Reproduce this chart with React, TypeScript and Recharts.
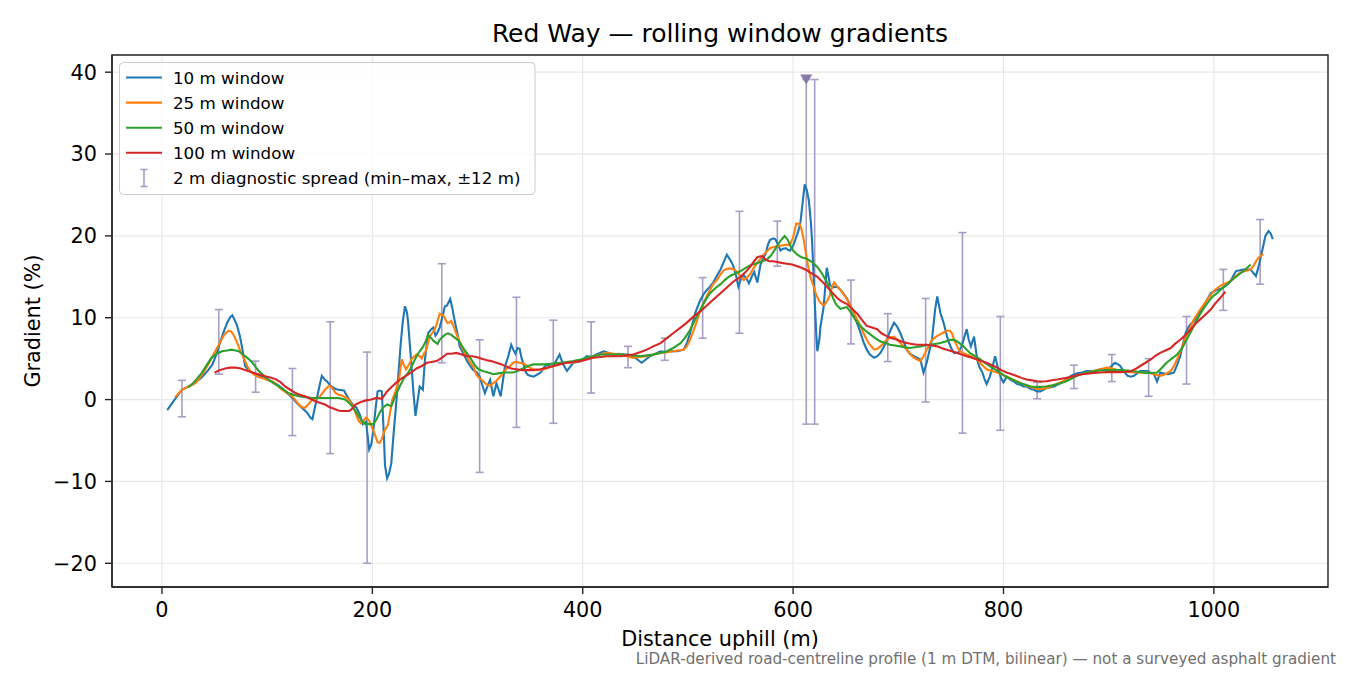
import React from 'react'
import {
  ComposedChart,
  Line,
  Scatter,
  ErrorBar,
  XAxis,
  YAxis,
  CartesianGrid,
  ReferenceArea,
} from 'recharts'

// [distance uphill (m), gradient (%)]
const window10m: [number, number][] = [
  [5, -1.3], [11, -0.2], [19, 1.2], [28, 1.8], [37, 2.6], [44, 3.6], [48, 4.3], [52, 5.6], [55, 6.9], [59, 8.4],
  [62, 9.4], [65, 10.1], [67, 10.3], [71, 9.2], [74, 7.8], [76, 6.5], [79, 4.1], [83, 3.5], [86, 3.3], [90, 3.0],
  [95, 2.8], [100, 2.5], [105, 2.2], [110, 1.8], [114, 1.4], [119, 0.8], [124, 0.2], [128, -0.4], [133, -1.0], [138, -1.6],
  [141, -2.2], [143, -2.4], [147, 0.0], [150, 1.8], [152, 2.9], [155, 2.4], [157, 2.2], [161, 1.6], [165, 1.3], [168, 1.2],
  [173, 1.1], [176, 0.4], [179, -0.2], [182, -0.7], [185, -1.0], [188, -1.8], [191, -3.0], [194, -2.7], [197, -6.1], [199, -5.5],
  [201, -3.7], [203, -1.2], [205, 1.0], [207, 1.1], [209, 1.0], [211, -4.5], [212, -8.0], [214, -9.6], [216, -9.0], [218, -7.8],
  [220, -4.5], [223, 0.0], [225, 3.5], [227, 6.9], [229, 9.6], [231, 11.4], [233, 10.6], [234, 9.4], [237, 4.5], [239, 1.0],
  [241, -2.0], [243, -0.2], [245, 1.6], [248, 1.2], [250, 4.9], [253, 8.1], [256, 8.6], [258, 8.8], [260, 7.8], [262, 8.2],
  [264, 8.8], [267, 10.3], [269, 11.4], [271, 11.5], [274, 12.3], [276, 11.2], [278, 9.8], [281, 8.0], [283, 6.5], [287, 5.5],
  [290, 4.7], [293, 4.1], [296, 3.6], [299, 3.4], [302, 2.8], [305, 1.6], [307, 0.8], [310, 1.8], [312, 2.4], [315, 0.4],
  [318, 2.0], [320, 1.2], [322, 0.4], [324, 2.2], [326, 4.0], [329, 5.2], [332, 6.7], [334, 6.1], [336, 5.6], [338, 6.3],
  [340, 6.2], [342, 5.0], [344, 4.2], [346, 3.3], [348, 3.0], [353, 2.8], [356, 3.0], [360, 3.3], [363, 3.9], [366, 4.3],
  [369, 4.0], [372, 4.1], [375, 4.8], [378, 5.5], [381, 4.4], [385, 3.5], [388, 4.0], [391, 4.5], [395, 4.6], [398, 4.7],
  [404, 5.3], [408, 5.2], [413, 5.5], [420, 5.9], [425, 5.7], [429, 5.5], [434, 5.6], [439, 5.5], [444, 5.4], [448, 5.3],
  [452, 4.9], [456, 4.5], [460, 4.9], [464, 5.3], [469, 5.6], [474, 5.9], [479, 5.8], [483, 5.9], [490, 5.9], [496, 6.1],
  [499, 6.9], [502, 8.1], [505, 9.6], [507, 10.6], [510, 11.6], [512, 12.2], [515, 12.9], [518, 13.4], [521, 13.8], [524, 14.3],
  [527, 15.0], [531, 15.9], [534, 16.8], [537, 17.7], [540, 17.1], [543, 16.4], [546, 15.0], [548, 13.8], [550, 14.6], [553, 15.2],
  [556, 14.7], [558, 14.2], [561, 15.1], [563, 15.6], [566, 14.3], [569, 16.5], [572, 17.4], [574, 17.8], [576, 18.9], [578, 19.5],
  [581, 19.7], [583, 19.6], [586, 18.9], [588, 18.2], [590, 18.4], [593, 18.5], [595, 18.3], [597, 18.2], [600, 18.8], [602, 19.5],
  [605, 20.6], [607, 21.7], [609, 24.0], [611, 26.3], [613, 25.6], [615, 24.3], [617, 21.5], [618, 19.4], [620, 13.7], [622, 8.0],
  [623, 5.9], [625, 7.4], [626, 8.9], [629, 11.3], [631, 14.5], [632, 16.1], [634, 14.8], [635, 14.0], [638, 13.7], [640, 13.8],
  [643, 13.7], [645, 13.4], [648, 12.9], [651, 12.4], [654, 11.6], [657, 10.7], [660, 9.6], [664, 8.2], [667, 7.0], [670, 6.1],
  [673, 5.5], [677, 5.1], [680, 5.3], [683, 5.7], [686, 6.4], [689, 7.3], [693, 8.6], [696, 9.4], [699, 8.9], [702, 8.1],
  [705, 7.1], [708, 6.1], [711, 5.6], [715, 5.3], [718, 5.1], [721, 4.9], [724, 3.3], [727, 4.5], [730, 6.2], [732, 7.3],
  [735, 11.0], [737, 12.6], [740, 10.6], [743, 9.4], [746, 7.9], [748, 7.0], [751, 6.1], [753, 5.7], [757, 5.7], [760, 6.5],
  [762, 7.3], [765, 8.6], [767, 7.3], [769, 6.5], [772, 7.7], [775, 4.9], [777, 4.0], [780, 3.3], [782, 2.5], [784, 1.9],
  [787, 2.8], [789, 3.7], [792, 5.3], [795, 3.7], [798, 2.5], [800, 2.1], [803, 2.8], [807, 2.4], [810, 2.2], [813, 1.9],
  [816, 1.8], [819, 1.6], [822, 1.6], [826, 1.3], [829, 1.2], [832, 1.0], [835, 1.0], [838, 1.2], [841, 1.4], [845, 1.5],
  [848, 1.6], [851, 1.8], [854, 2.0], [857, 2.2], [860, 2.45], [864, 2.9], [867, 3.06], [870, 3.2], [873, 3.26], [879, 3.5],
  [886, 3.5], [892, 3.7], [898, 3.7], [902, 4.0], [906, 4.5], [909, 4.3], [911, 4.1], [914, 3.5], [918, 2.9], [921, 2.8],
  [924, 2.9], [927, 3.2], [930, 3.5], [934, 3.5], [937, 3.5], [940, 3.3], [943, 3.1], [946, 2.2], [949, 3.3], [952, 3.2],
  [956, 3.1], [959, 3.2], [962, 3.3], [965, 4.2], [968, 5.3], [971, 7.0], [973, 8.1], [976, 8.9], [978, 9.2], [981, 9.6],
  [984, 10.2], [987, 10.8], [990, 11.4], [994, 12.3], [997, 13.0], [1000, 13.2], [1003, 13.4], [1006, 13.5], [1009, 13.7], [1013, 14.1],
  [1016, 14.5], [1018, 15.0], [1021, 15.7], [1025, 15.8], [1028, 15.9], [1031, 15.9], [1035, 15.9], [1038, 15.4], [1040, 15.1], [1042, 16.0],
  [1044, 17.1], [1047, 18.8], [1049, 20.0], [1052, 20.6], [1054, 20.3], [1056, 19.6],
]

const window25m: [number, number][] = [
  [12.5, 0.3], [19, 1.2], [25, 1.6], [32, 2.0], [38, 3.0], [44, 4.3], [49, 5.5], [54, 6.7], [59, 7.9], [63, 8.4],
  [66, 8.3], [68, 7.9], [71, 7.1], [74, 6.1], [78, 5.0], [81, 4.1], [84, 3.5], [87, 3.1], [91, 2.8], [95, 2.65],
  [100, 2.4], [105, 2.2], [109, 1.8], [114, 1.2], [119, 0.8], [124, 0.4], [127, -0.1], [130, -0.6], [133, -0.9], [136, -1.0],
  [139, -0.6], [143, 0.0], [146, 0.1], [149, 0.2], [152, 0.7], [155, 1.2], [158, 1.6], [160, 1.7], [163, 1.2], [165, 0.8],
  [168, 0.6], [171, 0.5], [174, 0.3], [176, 0.2], [179, -0.3], [181, -0.7], [183, -1.3], [185, -2.0], [187, -2.6], [189, -2.9],
  [192, -2.5], [194, -2.2], [197, -2.6], [199, -3.2], [201, -3.8], [203, -4.5], [205, -5.2], [207, -5.3], [209, -4.8], [211, -4.0],
  [213, -3.5], [215, -3.0], [217, -1.5], [219, 0.0], [222, 1.0], [225, 2.2], [227, 4.0], [228, 4.9], [230, 4.2], [232, 3.7],
  [235, 4.3], [237, 4.9], [240, 5.3], [242, 5.5], [245, 5.3], [247, 5.0], [249, 5.6], [251, 6.0], [253, 7.0], [255, 7.8],
  [258, 8.3], [260, 8.8], [262, 9.6], [264, 10.5], [266, 10.4], [268, 10.2], [271, 9.4], [273, 9.4], [275, 9.6], [277, 9.0],
  [280, 8.0], [283, 7.1], [285, 6.4], [288, 5.7], [290, 5.2], [293, 4.5], [296, 4.0], [299, 3.0], [302, 2.6], [305, 2.3],
  [308, 1.9], [312, 1.7], [315, 2.0], [318, 2.3], [320, 2.6], [323, 3.0], [325, 3.4], [328, 3.8], [331, 4.1], [334, 4.5],
  [336, 4.6], [340, 4.5], [344, 4.4], [348, 4.0], [353, 3.7], [358, 3.6], [363, 3.7], [367, 3.9], [372, 4.1], [377, 4.3],
  [382, 4.5], [386, 4.5], [391, 4.5], [396, 4.7], [401, 4.9], [405, 5.1], [410, 5.3], [416, 5.5], [423, 5.7], [429, 5.6],
  [436, 5.5], [442, 5.3], [448, 5.1], [454, 5.2], [461, 5.3], [467, 5.5], [474, 5.7], [480, 5.8], [486, 5.9], [491, 6.0],
  [496, 6.1], [499, 6.5], [502, 7.3], [505, 8.3], [508, 9.4], [511, 10.6], [515, 11.8], [518, 12.7], [521, 13.4], [524, 14.1],
  [528, 14.7], [531, 15.3], [534, 15.8], [538, 16.0], [541, 16.0], [544, 15.9], [547, 15.6], [550, 15.0], [553, 14.6], [556, 14.9],
  [559, 15.3], [562, 16.0], [566, 16.7], [569, 17.2], [572, 17.7], [575, 18.1], [578, 18.5], [583, 18.7], [588, 18.8], [592, 18.9],
  [597, 18.9], [600, 19.8], [603, 21.5], [606, 21.5], [608, 20.8], [610, 19.6], [612, 18.0], [614, 16.5], [616, 15.2], [619, 14.0],
  [622, 12.8], [625, 12.0], [628, 11.6], [630, 11.6], [633, 12.2], [635, 12.8], [637, 13.8], [639, 14.3], [642, 13.8], [645, 13.4],
  [648, 12.9], [651, 12.3], [654, 11.6], [657, 10.8], [660, 10.0], [664, 9.0], [667, 8.1], [670, 7.3], [673, 6.7], [677, 6.1],
  [680, 6.2], [683, 6.5], [686, 6.9], [689, 7.3], [693, 7.6], [696, 7.7], [699, 7.3], [702, 6.9], [705, 6.5], [708, 6.1],
  [711, 5.6], [715, 5.1], [718, 4.9], [721, 4.7], [724, 5.3], [727, 6.1], [730, 6.8], [732, 7.3], [736, 7.7], [740, 8.0],
  [743, 8.2], [746, 8.4], [749, 8.4], [751, 8.1], [753, 7.3], [756, 6.5], [758, 6.0], [761, 5.7], [765, 5.5], [769, 5.3],
  [772, 5.1], [775, 4.9], [779, 4.3], [784, 3.7], [789, 3.5], [794, 3.3], [798, 3.1], [803, 2.8], [808, 2.5], [813, 2.2],
  [817, 2.0], [822, 1.7], [827, 1.5], [832, 1.3], [836, 1.3], [841, 1.4], [845, 1.6], [848, 1.8], [854, 2.1], [860, 2.45],
  [866, 2.8], [873, 3.06], [879, 3.3], [886, 3.5], [892, 3.7], [898, 3.9], [904, 3.8], [911, 3.5], [917, 3.4], [924, 3.3],
  [930, 3.3], [937, 3.3], [943, 3.1], [949, 2.9], [954, 3.1], [959, 3.5], [962, 4.1], [965, 4.9], [968, 5.8], [971, 6.9],
  [976, 8.4], [981, 9.8], [984, 10.4], [987, 11.0], [992, 11.9], [997, 12.8], [1001, 13.4], [1006, 13.9], [1011, 14.2], [1016, 14.5],
  [1020, 15.0], [1025, 15.5], [1030, 15.7], [1035, 15.9], [1038, 16.4], [1041, 17.1], [1044, 17.5], [1047, 17.8],
]

const window50m: [number, number][] = [
  [25, 1.5], [28, 1.8], [33, 2.5], [38, 3.3], [43, 4.3], [47, 5.1], [52, 5.6], [57, 5.9], [62, 6.0], [66, 6.1],
  [70, 6.0], [73, 5.9], [76, 5.6], [79, 5.3], [83, 4.9], [86, 4.5], [89, 4.0], [92, 3.5], [97, 2.9], [101, 2.45],
  [106, 2.0], [111, 1.6], [116, 1.2], [120, 0.8], [125, 0.6], [130, 0.4], [136, 0.3], [143, 0.2], [149, 0.2], [155, 0.2],
  [161, 0.2], [168, 0.2], [174, 0.0], [177, -0.3], [180, -0.7], [183, -1.2], [187, -2.0], [190, -2.6], [192, -2.9], [196, -3.0],
  [201, -3.0], [204, -2.4], [207, -1.6], [210, -1.0], [214, -0.6], [218, -0.8], [220, -0.2], [223, 0.8], [226, 1.6], [230, 2.6],
  [233, 3.1], [236, 3.7], [239, 4.5], [242, 5.3], [245, 5.9], [248, 6.4], [251, 7.2], [253, 7.9], [256, 7.5], [258, 7.2],
  [262, 6.8], [264, 7.3], [267, 7.7], [270, 8.0], [272, 8.1], [275, 7.9], [278, 7.6], [282, 7.2], [285, 6.6], [288, 6.0],
  [292, 5.3], [295, 4.7], [298, 4.1], [301, 3.7], [305, 3.5], [310, 3.3], [315, 3.1], [320, 3.2], [325, 3.3], [330, 3.3],
  [334, 3.3], [338, 3.5], [343, 3.8], [348, 4.1], [353, 4.3], [359, 4.3], [366, 4.3], [372, 4.4], [379, 4.5], [385, 4.6],
  [391, 4.7], [398, 4.9], [404, 5.1], [410, 5.3], [417, 5.5], [423, 5.5], [429, 5.5], [436, 5.5], [442, 5.5], [448, 5.4],
  [455, 5.3], [461, 5.4], [467, 5.5], [474, 5.7], [480, 5.9], [486, 6.3], [493, 6.9], [497, 7.5], [502, 8.5], [507, 9.8],
  [512, 11.0], [516, 12.0], [521, 13.0], [526, 13.6], [531, 14.1], [535, 14.6], [540, 15.1], [545, 15.4], [550, 15.7], [555, 16.1],
  [559, 16.4], [564, 16.6], [569, 16.8], [575, 17.1], [579, 17.6], [582, 18.2], [585, 18.8], [588, 19.4], [592, 20.0], [595, 19.5],
  [597, 18.9], [600, 18.2], [604, 17.7], [608, 17.4], [613, 17.2], [618, 16.8], [623, 16.2], [627, 15.5], [632, 14.4], [635, 13.4],
  [638, 12.4], [641, 11.6], [645, 11.1], [648, 11.2], [651, 11.3], [654, 10.8], [657, 10.2], [660, 9.6], [664, 9.0], [668, 8.5],
  [673, 8.0], [678, 7.5], [683, 7.1], [688, 6.9], [692, 6.7], [697, 6.6], [702, 6.5], [706, 6.4], [711, 6.3], [716, 6.4],
  [721, 6.5], [725, 6.6], [730, 6.7], [735, 6.8], [740, 6.9], [745, 7.1], [749, 7.3], [753, 7.3], [756, 7.1], [759, 6.8],
  [762, 6.5], [765, 6.1], [768, 5.7], [773, 5.3], [778, 4.9], [782, 4.5], [787, 4.1], [792, 3.7], [797, 3.26], [801, 2.9],
  [806, 2.6], [811, 2.3], [816, 2.0], [821, 1.8], [826, 1.6], [830, 1.55], [835, 1.55], [840, 1.6], [845, 1.7], [850, 1.85],
  [854, 2.0], [859, 2.2], [864, 2.5], [868, 2.8], [873, 3.06], [879, 3.3], [886, 3.47], [892, 3.55], [898, 3.6], [905, 3.6],
  [911, 3.6], [918, 3.55], [924, 3.47], [930, 3.35], [936, 3.26], [941, 3.25], [946, 3.3], [950, 3.8], [955, 4.5], [960, 5.0],
  [965, 5.5], [970, 6.3], [974, 7.3], [979, 8.5], [984, 9.8], [989, 10.9], [994, 11.8], [998, 12.5], [1003, 13.0], [1008, 13.6],
  [1013, 14.1], [1017, 14.6], [1022, 15.1], [1026, 15.5], [1030, 15.9], [1035, 16.5],
]

const window100m: [number, number][] = [
  [50, 3.3], [55, 3.6], [60, 3.8], [65, 3.9], [70, 3.9], [75, 3.8], [79, 3.6], [84, 3.4], [89, 3.2], [94, 3.0],
  [98, 2.85], [103, 2.7], [108, 2.5], [113, 2.1], [117, 1.6], [122, 1.2], [127, 0.8], [131, 0.6], [136, 0.4], [141, 0.1],
  [146, -0.2], [150, -0.4], [155, -0.6], [159, -0.9], [163, -1.1], [167, -1.3], [170, -1.4], [174, -1.4], [178, -1.4], [181, -1.1],
  [184, -0.6], [189, -0.3], [194, -0.1], [199, 0.0], [204, 0.2], [209, 0.1], [214, 1.0], [218, 1.5], [223, 2.1], [228, 2.6],
  [233, 3.0], [238, 3.4], [242, 3.8], [247, 4.1], [252, 4.5], [256, 4.6], [261, 4.7], [266, 5.1], [271, 5.6], [275, 5.6],
  [280, 5.7], [285, 5.5], [290, 5.3], [295, 5.3], [299, 5.2], [304, 5.0], [309, 4.8], [313, 4.7], [318, 4.5], [323, 4.3],
  [328, 4.0], [332, 3.8], [337, 3.7], [342, 3.6], [347, 3.6], [353, 3.6], [360, 3.7], [366, 3.9], [372, 4.1], [378, 4.3],
  [385, 4.5], [391, 4.6], [398, 4.7], [404, 4.9], [410, 5.1], [417, 5.2], [423, 5.3], [429, 5.3], [436, 5.3], [442, 5.4],
  [448, 5.5], [455, 5.8], [461, 6.1], [467, 6.5], [474, 6.9], [480, 7.5], [486, 8.1], [493, 8.8], [499, 9.4], [505, 10.1],
  [512, 10.8], [518, 11.5], [524, 12.2], [531, 13.0], [537, 13.7], [543, 14.4], [550, 15.0], [555, 15.6], [559, 16.2], [563, 16.9],
  [566, 17.4], [569, 17.5], [571, 17.5], [574, 17.1], [577, 16.9], [581, 16.9], [585, 16.8], [589, 16.7], [594, 16.6], [599, 16.5],
  [604, 16.3], [608, 16.1], [613, 15.8], [618, 15.4], [623, 15.0], [627, 14.5], [632, 13.8], [637, 13.1], [642, 12.4], [646, 12.0],
  [651, 11.7], [656, 11.1], [661, 10.5], [665, 9.8], [670, 9.0], [675, 8.8], [680, 8.6], [684, 8.1], [689, 7.75], [694, 7.5],
  [699, 7.3], [703, 7.1], [708, 6.9], [713, 6.8], [718, 6.7], [722, 6.7], [727, 6.7], [732, 6.6], [737, 6.5], [741, 6.3],
  [746, 6.1], [751, 5.9], [756, 5.7], [760, 5.5], [765, 5.3], [770, 5.1], [775, 4.9], [779, 4.7], [784, 4.5], [789, 4.2],
  [794, 3.9], [798, 3.6], [803, 3.3], [808, 3.1], [813, 2.85], [817, 2.65], [822, 2.45], [827, 2.35], [832, 2.24], [836, 2.2],
  [841, 2.24], [846, 2.35], [851, 2.45], [855, 2.55], [860, 2.65], [866, 2.85], [873, 3.06], [879, 3.15], [886, 3.26], [892, 3.3],
  [898, 3.35], [905, 3.35], [911, 3.35], [916, 3.4], [921, 3.47], [925, 3.7], [930, 4.1], [935, 4.5], [940, 4.9], [944, 5.3],
  [949, 5.7], [954, 6.0], [959, 6.3], [963, 6.8], [968, 7.3], [973, 7.9], [978, 8.56], [982, 9.2], [987, 9.8], [992, 10.4],
  [997, 11.0], [1001, 11.7], [1006, 12.4], [1011, 13.2],
]

// 2 m diagnostic spread: min / max within ±12 m
const spreadDist = [19, 54, 89, 124, 160, 195, 266, 302, 337, 372, 408, 443, 478, 514, 549, 585, 612.5, 620.5, 655, 690, 726, 761, 797, 832, 867, 903, 938, 974, 1009, 1044]
const spreadLow = [-2.1, 3.1, 0.9, -4.4, -6.6, -20.0, 4.5, -8.9, -3.4, -2.9, 0.8, 3.9, 4.8, 7.5, 8.1, 16.3, -3.0, -3.0, 6.8, 4.65, -0.3, -4.1, -3.75, 0.1, 1.35, 2.2, 0.4, 1.9, 10.9, 14.1]
const spreadHigh = [2.35, 11.0, 4.7, 3.8, 9.5, 5.8, 16.6, 7.3, 12.5, 9.7, 9.5, 6.5, 7.5, 14.9, 23.0, 21.8, 39.1, 39.1, 14.6, 10.5, 12.35, 20.4, 10.15, 2.1, 4.2, 5.5, 5.0, 10.15, 15.9, 22.0]

// spread that runs off the top of the axis
const clippedDist = [612.5]
const clippedMark = [39.1]

const xTicks = [0, 200, 400, 600, 800, 1000]
const yTicks = [-20, -10, 0, 10, 20, 30, 40]

const series = [
  { name: '10 m window', color: '#1f77b4', points: window10m },
  { name: '25 m window', color: '#ff7f0e', points: window25m },
  { name: '50 m window', color: '#2ca02c', points: window50m },
  { name: '100 m window', color: '#d62728', points: window100m },
]

const spreadLabel = '2 m diagnostic spread (min–max, ±12 m)'
const spreadColor = '#a79dc6'
const font = '"DejaVu Sans", sans-serif'
const lineWidth = 2.1

const spreadRows = spreadDist.map((d, i) => {
  const mid = (spreadLow[i] + spreadHigh[i]) / 2
  return { d, mid, err: [mid - spreadLow[i], spreadHigh[i] - mid] }
})
const clippedRows = clippedDist.map((d, i) => ({ d, mid: clippedMark[i] }))

const minus = (v: number) => String(v).replace('-', '\u2212')

function DownTriangle(props: any) {
  const { cx, cy } = props
  if (cx == null || cy == null) return null
  return <path d={`M${cx - 6},${cy - 5} L${cx + 6},${cy - 5} L${cx},${cy + 5} Z`} fill="#8779ac" />
}

export default function App() {
  const tickStyle = { fontSize: 20.8, fill: '#000', fontFamily: font }
  const ink = { stroke: '#262626', strokeWidth: 1.4 }
  return (
    <div style={{ position: 'fixed', left: 0, top: 0, width: 1350, height: 675, background: '#fff', fontFamily: font }}>
      <ComposedChart width={1350} height={675} margin={{ top: 55, right: 22, bottom: 58, left: 42 }}>
        <CartesianGrid stroke="#e8e8e8" strokeWidth={1.2} />
        <XAxis
          type="number"
          dataKey="d"
          domain={[-47.5, 1108.5]}
          ticks={xTicks}
          interval={0}
          allowDataOverflow
          height={30}
          tickSize={7}
          tickMargin={8}
          tick={tickStyle}
          tickLine={ink}
          axisLine={ink}
        />
        <YAxis
          type="number"
          domain={[-22.9, 42.1]}
          ticks={yTicks}
          interval={0}
          allowDataOverflow
          width={70}
          tickSize={7}
          tickMargin={8}
          tick={tickStyle}
          tickFormatter={minus}
          tickLine={ink}
          axisLine={ink}
        />
        <Scatter data={spreadRows} dataKey="mid" shape={() => <g />} isAnimationActive={false}>
          <ErrorBar dataKey="err" direction="y" width={4} stroke={spreadColor} strokeWidth={1.6} isAnimationActive={false} />
        </Scatter>
        {series.map((s) => (
          <Line
            key={s.name}
            data={s.points.map(([d, g]) => ({ d, g }))}
            dataKey="g"
            type="linear"
            stroke={s.color}
            strokeWidth={lineWidth}
            dot={false}
            activeDot={false}
            isAnimationActive={false}
          />
        ))}
        <Scatter data={clippedRows} dataKey="mid" shape={DownTriangle} isAnimationActive={false} />
        <ReferenceArea x1={-47.5} x2={1108.5} y1={-22.9} y2={42.1} fill="none" stroke="#262626" strokeWidth={1.4} ifOverflow="visible" />
      </ComposedChart>

      <svg width={1350} height={675} style={{ position: 'absolute', left: 0, top: 0, pointerEvents: 'none' }}>
        <text x={720} y={42.3} textAnchor="middle" fontSize={25} fill="#000">
          Red Way — rolling window gradients
        </text>
        <text x={720} y={646} textAnchor="middle" fontSize={20.8} fill="#000">
          Distance uphill (m)
        </text>
        <text x={40} y={321} textAnchor="middle" fontSize={20.8} fill="#000" transform="rotate(-90 40 321)">
          Gradient (%)
        </text>
        <text x={1336} y={664} textAnchor="end" fontSize={15.2} fill="#707070">
          LiDAR-derived road-centreline profile (1 m DTM, bilinear) — not a surveyed asphalt gradient
        </text>

        <rect x={119.5} y={62.5} width={415.5} height={132} rx={4} fill="#fff" fillOpacity={0.8} stroke="#cccccc" strokeWidth={1} />
        {series.map((s, i) => {
          const y = 77.5 + i * 25.1
          return (
            <g key={s.name}>
              <line x1={126} x2={162} y1={y} y2={y} stroke={s.color} strokeWidth={lineWidth} />
              <text x={173} y={y + 6} fontSize={16.7} fill="#000">
                {s.name}
              </text>
            </g>
          )
        })}
        <g>
          <line x1={144} x2={144} y1={169.5} y2={186.5} stroke={spreadColor} strokeWidth={1.6} />
          <line x1={140.5} x2={147.5} y1={169.5} y2={169.5} stroke={spreadColor} strokeWidth={1.6} />
          <line x1={140.5} x2={147.5} y1={186.5} y2={186.5} stroke={spreadColor} strokeWidth={1.6} />
          <text x={173} y={183.9} fontSize={16.7} fill="#000">
            {spreadLabel}
          </text>
        </g>
      </svg>
    </div>
  )
}
